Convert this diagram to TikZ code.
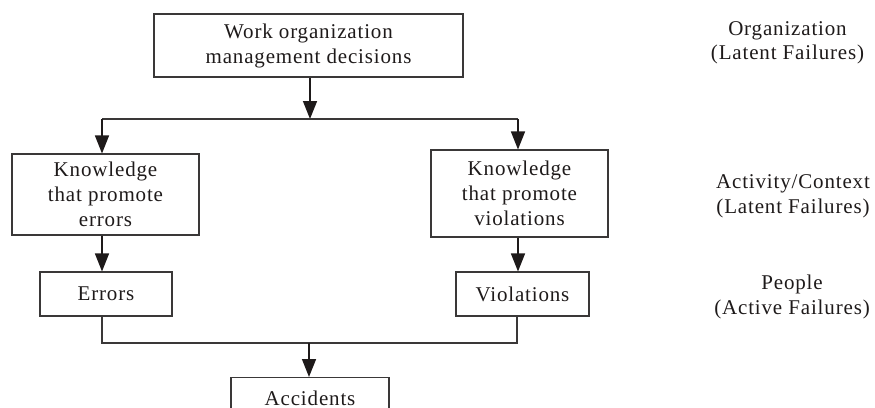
\documentclass[tikz,border=0pt]{standalone}
\usepackage{fontspec}
\setmainfont[LetterSpace=4]{Liberation Serif}
\usetikzlibrary{arrows.meta}
\definecolor{ink}{HTML}{1E1A1A}
\definecolor{edge}{HTML}{3A3838}
\begin{document}
\begin{tikzpicture}[x=1pt,y=-1pt,
  box/.style={draw=edge, line width=1.1pt, inner sep=0pt, align=center, text=ink,
    font=\fontsize{21}{25}\selectfont},
  lbl/.style={align=center, text=ink, inner sep=0pt, font=\fontsize{21}{24.5}\selectfont},
  arr/.style={draw=ink, line width=1.5pt, -{Triangle[length=18pt,width=14pt]}},
  ln/.style={draw=edge, line width=1.3pt}]
\useasboundingbox (0,0) rectangle (875,407);
\clip (0,0) rectangle (875,407);
% boxes
\node[box, minimum width=309pt, minimum height=63pt] (org) at (308.5,45.5) {Work organization\\management decisions};
\node[box, minimum width=187pt, minimum height=81pt] (ka) at (105.5,194.5) {Knowledge\\that promote\\errors};
\node[box, minimum width=177pt, minimum height=87pt] (kb) at (519.5,193.5) {Knowledge\\that promote\\violations};
\node[box, minimum width=132pt, minimum height=44pt] (err) at (106,294) {Errors};
\node[box, minimum width=133pt, minimum height=44pt] (vio) at (522.5,294) {Violations};
\node[box, minimum width=158pt, minimum height=44pt, anchor=north] (acc) at (310,377) {\raisebox{3pt}{Accidents}};
% right labels
\node[lbl] (l1) at (787.5,43) {Organization\\(Latent Failures)};
\node[lbl] (l2) at (793,196.5) {Activity/Context\\(Latent Failures)};
\node[lbl] (l3) at (792,297) {People\\(Active Failures)};
% junction coordinates
\coordinate (jt) at (310,119);
\coordinate (jl) at (102,119);
\coordinate (jr) at (518,119);
\coordinate (bl) at (102,343);
\coordinate (br) at (517,343);
\coordinate (bt) at (309,343);
% connectors
\draw[arr] (org.south -| jt) -- (jt);
\draw[ln] (jl) -- (jr);
\draw[arr] (jl) -- (jl |- ka.north);
\draw[arr] (jr) -- (jr |- kb.north);
\draw[arr] (ka.south -| jl) -- (jl |- err.north);
\draw[arr] (kb.south -| jr) -- (jr |- vio.north);
\draw[ln] (err.south -| bl) -- (bl) -- (br) -- (vio.south -| br);
\draw[arr] (bt) -- (bt |- acc.north);
\end{tikzpicture}
\end{document}
